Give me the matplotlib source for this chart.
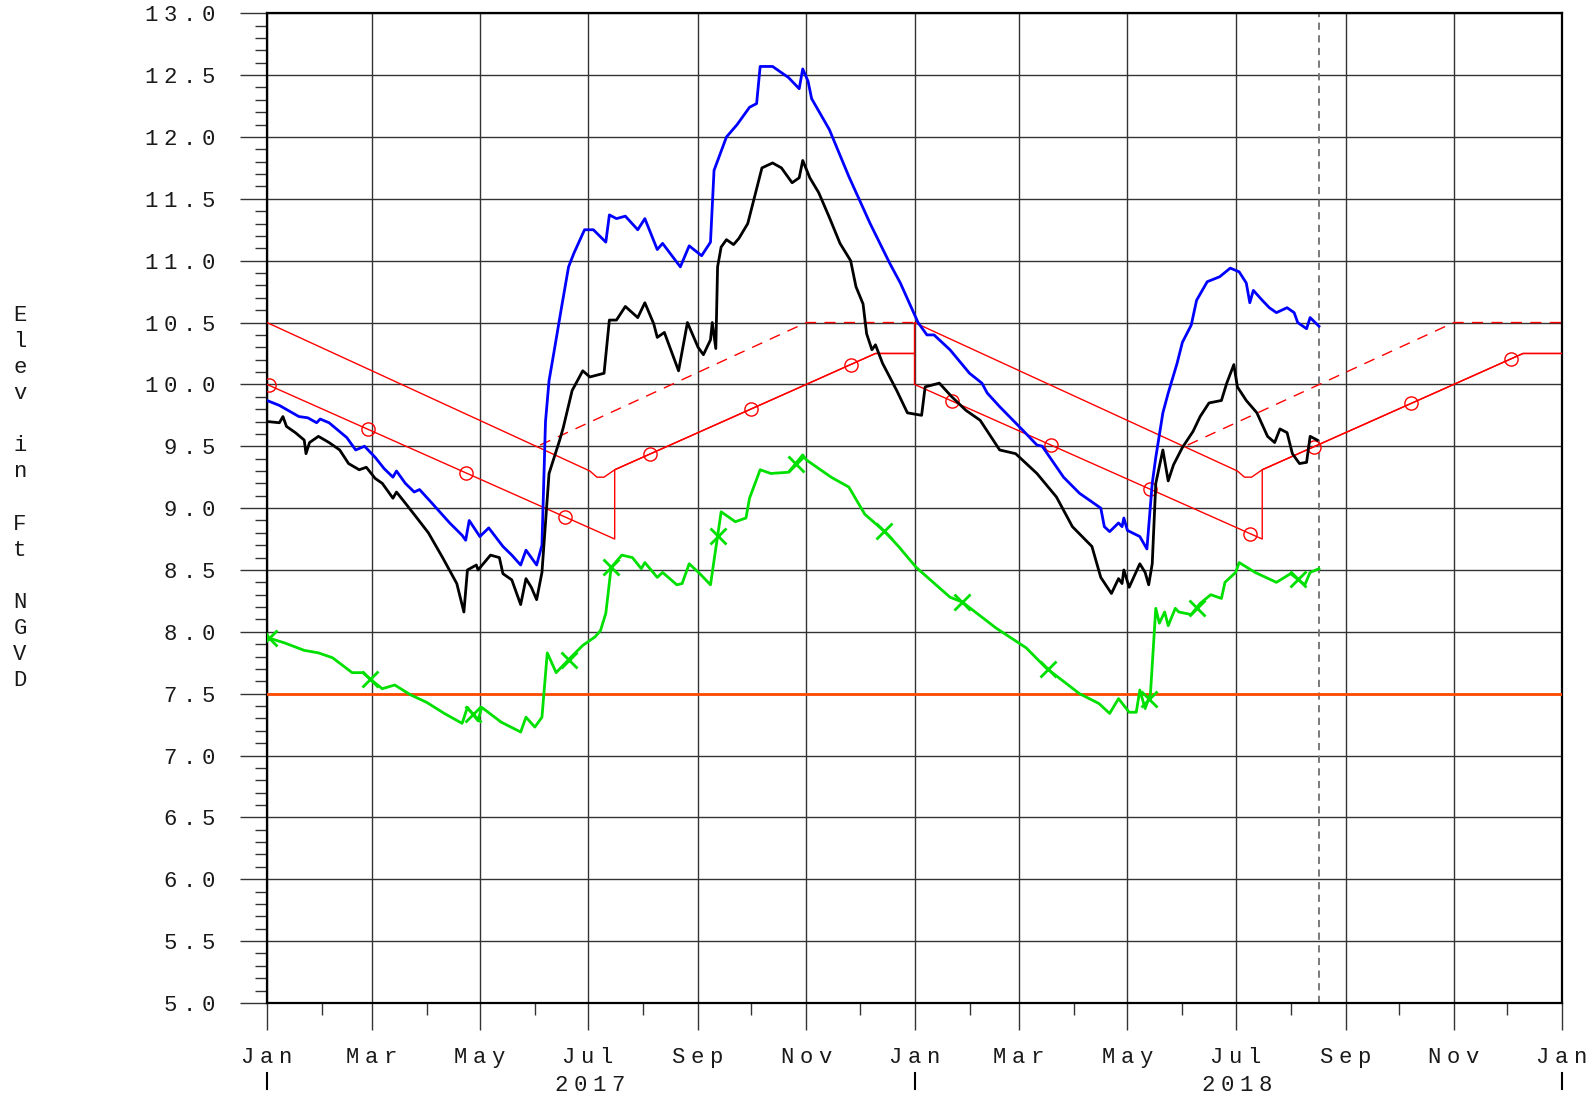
import numpy as np
import matplotlib
matplotlib.use('Agg')
import matplotlib.pyplot as plt
import matplotlib.dates as mdates
from matplotlib.ticker import FuncFormatter, MultipleLocator

plt.rcParams['font.family'] = ['Liberation Mono', 'DejaVu Sans']

START = np.datetime64('2017-01-01')

# all x values are days since 2017-01-01
blue_days = [0, 7, 18, 23, 28, 30, 35, 45, 50, 55, 61, 66, 71, 73, 78, 83, 86, 93, 103, 110,
             112, 114, 120, 125, 133, 138, 143, 146, 152, 155, 157, 159, 162, 166, 170, 173,
             179, 184, 191, 193, 197, 202, 209, 213, 220, 223, 233, 238, 245, 250, 252, 259,
             265, 272, 276, 278, 285, 294, 300, 302, 305, 307, 317, 328, 340, 351, 357, 367,
             372, 376, 385, 396, 403, 406, 413, 426, 434, 437, 449, 458, 466, 470, 472, 475,
             480, 482, 483, 485, 492, 496, 499, 501, 505, 508, 513, 516, 521, 524, 530, 537,
             543, 548, 552, 554, 556, 561, 565, 569, 575, 579, 581, 586, 588, 593]
blue_vals = [9.87, 9.83, 9.74, 9.73, 9.69, 9.72, 9.69, 9.57, 9.47, 9.50, 9.41, 9.32, 9.25, 9.30,
             9.20, 9.13, 9.15, 9.04, 8.88, 8.78, 8.74, 8.90, 8.77, 8.84, 8.69, 8.62, 8.54, 8.66,
             8.54, 8.70, 9.70, 10.03, 10.28, 10.62, 10.95, 11.06, 11.25, 11.25, 11.15, 11.37,
             11.34, 11.36, 11.25, 11.34, 11.09, 11.14, 10.95, 11.12, 11.04, 11.15, 11.73, 12.00,
             12.10, 12.24, 12.27, 12.57, 12.57, 12.48, 12.39, 12.55, 12.45, 12.31, 12.06, 11.68,
             11.30, 10.98, 10.82, 10.50, 10.40, 10.40, 10.28, 10.09, 10.01, 9.93, 9.82, 9.63,
             9.51, 9.50, 9.25, 9.12, 9.04, 9.00, 8.85, 8.81, 8.88, 8.85, 8.92, 8.82, 8.77, 8.67,
             9.20, 9.41, 9.77, 9.93, 10.17, 10.34, 10.48, 10.68, 10.83, 10.87, 10.94, 10.91,
             10.82, 10.66, 10.76, 10.68, 10.62, 10.58, 10.62, 10.58, 10.50, 10.45, 10.54, 10.47]

black_days = [0, 7, 9, 11, 16, 21, 22, 24, 29, 35, 41, 46, 52, 56, 61, 65, 71, 73, 78, 84, 91,
              99, 107, 111, 113, 118, 119, 126, 131, 133, 138, 143, 146, 149, 152, 155, 159, 165,
              167, 172, 178, 182, 190, 193, 197, 202, 209, 213, 218, 220, 224, 232, 237, 243,
              246, 250, 251, 253, 254, 256, 259, 263, 266, 271, 274, 279, 285, 290, 296, 300,
              302, 306, 311, 317, 323, 329, 332, 336, 338, 341, 343, 347, 355, 361, 369, 371,
              379, 386, 394, 402, 413, 422, 434, 445, 454, 465, 470, 476, 480, 482, 483, 486,
              492, 495, 497, 499, 501, 505, 508, 511, 516, 522, 526, 531, 538, 541, 545, 547,
              552, 558, 564, 568, 571, 575, 578, 582, 586, 588, 592]
black_vals = [9.70, 9.69, 9.74, 9.66, 9.61, 9.55, 9.44, 9.53, 9.58, 9.53, 9.47, 9.36, 9.31, 9.33,
              9.24, 9.20, 9.08, 9.13, 9.04, 8.93, 8.80, 8.60, 8.39, 8.16, 8.50, 8.54, 8.50, 8.62,
              8.60, 8.47, 8.42, 8.22, 8.43, 8.36, 8.26, 8.48, 9.28, 9.55, 9.65, 9.95, 10.11,
              10.06, 10.09, 10.52, 10.52, 10.63, 10.54, 10.66, 10.49, 10.38, 10.42, 10.11, 10.50,
              10.30, 10.24, 10.36, 10.50, 10.29, 10.95, 11.11, 11.17, 11.13, 11.18, 11.30, 11.47,
              11.75, 11.79, 11.75, 11.63, 11.67, 11.81, 11.67, 11.55, 11.35, 11.14, 11.00, 10.79,
              10.65, 10.41, 10.28, 10.32, 10.17, 9.95, 9.77, 9.75, 9.98, 10.01, 9.90, 9.79, 9.71,
              9.47, 9.44, 9.28, 9.09, 8.85, 8.69, 8.44, 8.31, 8.43, 8.39, 8.50, 8.36, 8.55, 8.48,
              8.38, 8.55, 9.20, 9.47, 9.22, 9.35, 9.49, 9.62, 9.74, 9.85, 9.87, 10.01, 10.16,
              9.98, 9.87, 9.77, 9.58, 9.53, 9.64, 9.61, 9.44, 9.36, 9.37, 9.58, 9.55]

green_days = [0, 1, 10, 21, 29, 37, 48, 54, 58, 65, 72, 81, 90, 100, 110, 113, 119, 121, 132,
              143, 146, 151, 155, 158, 163, 171, 178, 185, 188, 191, 194, 200, 206, 211, 213,
              220, 223, 231, 234, 238, 244, 250, 256, 264, 270, 272, 278, 284, 294, 302, 304,
              318, 328, 337, 349, 356, 366, 385, 392, 411, 428, 439, 458, 469, 475, 480, 486,
              490, 492, 495, 498, 501, 503, 506, 508, 512, 514, 521, 526, 532, 538, 540, 546,
              548, 557, 569, 577, 585, 588, 593]
green_vals = [7.98, 7.95, 7.91, 7.85, 7.83, 7.79, 7.67, 7.67, 7.62, 7.54, 7.57, 7.49, 7.43, 7.34,
              7.26, 7.39, 7.28, 7.39, 7.27, 7.19, 7.31, 7.23, 7.31, 7.83, 7.67, 7.79, 7.89, 7.96,
              8.01, 8.15, 8.52, 8.62, 8.60, 8.51, 8.56, 8.44, 8.48, 8.38, 8.39, 8.55, 8.47, 8.38,
              8.97, 8.89, 8.92, 9.08, 9.31, 9.28, 9.29, 9.43, 9.39, 9.25, 9.17, 8.95, 8.80, 8.69,
              8.52, 8.28, 8.24, 8.03, 7.87, 7.71, 7.50, 7.42, 7.34, 7.46, 7.35, 7.35, 7.53, 7.38,
              7.50, 8.19, 8.07, 8.16, 8.05, 8.19, 8.16, 8.14, 8.23, 8.30, 8.27, 8.40, 8.48, 8.56,
              8.48, 8.40, 8.47, 8.38, 8.48, 8.51]
green_mark_days = [1, 58, 116, 170, 194, 254, 298, 348, 392, 440, 497, 524, 581]

# rule curves
top_days = [0, 182, 186, 190, 193, 196, 304, 343, 365, 365, 547, 551, 555, 558, 561, 669, 708, 730]
top_vals = [10.5, 9.30, 9.25, 9.25, 9.28, 9.31, 10.0, 10.25, 10.25, 10.5,
            9.30, 9.25, 9.25, 9.28, 9.31, 10.0, 10.25, 10.25]
low_days = [0, 196, 196, 304, 343, 365, 365, 561, 561, 669, 708, 730]
low_vals = [10.0, 8.75, 9.31, 10.0, 10.25, 10.25, 10.0, 8.75, 9.31, 10.0, 10.25, 10.25]
low_mark_days = [1, 57, 112, 168, 216, 273, 329, 386, 442, 498, 554, 590, 645, 701]
dash_days = [154, 304, 365, 365, 519, 669, 730]
dash_vals = [9.51, 10.5, 10.5, np.nan, 9.51, 10.5, 10.5]

floor_level = 7.5
today_day = 593

year_labels = ['2017', '2018']
year_mid_days = [182, 547]
year_edge_days = [0, 365, 730]


def to_dates(days):
    return START + np.array(days).astype('timedelta64[D]')


def spaced(s):
    # narrow gap between letters, like the plotting package's lettering
    return '\u2005'.join(s)


fig = plt.figure(figsize=(15.91, 10.96), dpi=100)
ax = fig.add_subplot()
fig.subplots_adjust(left=0.1678, right=0.9818, top=0.9879, bottom=0.0849)

ax.plot(to_dates(dash_days), dash_vals, color='red', lw=1, ls=(0, (8, 6)), zorder=3)
ax.plot(to_dates(top_days), top_vals, color='red', lw=1, zorder=3)
ax.plot(to_dates(low_days), low_vals, color='red', lw=1, zorder=3)
low_x = np.array(low_days, dtype=float) + np.arange(len(low_days)) * 1e-6
ax.plot(to_dates(low_mark_days), np.interp(low_mark_days, low_x, low_vals), ls='none',
        marker='o', ms=9.5, mfc='none', mec='red', mew=1, zorder=3)

ax.axhline(floor_level, color='#ff4a00', lw=2, zorder=3)

ax.plot(to_dates(green_days), green_vals, color='#00e000', lw=2, zorder=4)
ax.plot(to_dates(green_mark_days), np.interp(green_mark_days, green_days, green_vals),
        ls='none', marker='x', ms=12, mec='#00e000', mew=2, zorder=4)
ax.plot(to_dates(blue_days), blue_vals, color='#0000ff', lw=2, zorder=5)
ax.plot(to_dates(black_days), black_vals, color='black', lw=2, zorder=5)

ax.axvline(to_dates([today_day])[0], color='#707070', lw=1.3, ls=(0, (4, 3)), zorder=2)

ax.set_xlim(to_dates([0])[0], to_dates([730])[0])
ax.set_ylim(5.0, 13.0)

ax.yaxis.set_major_locator(MultipleLocator(0.5))
ax.yaxis.set_minor_locator(MultipleLocator(0.1))
ax.yaxis.set_major_formatter(FuncFormatter(lambda v, p: spaced(f'{v:.1f}')))
ax.xaxis.set_major_locator(mdates.MonthLocator(bymonth=[1, 3, 5, 7, 9, 11]))
ax.xaxis.set_minor_locator(mdates.MonthLocator())
ax.xaxis.set_major_formatter(FuncFormatter(lambda v, p: spaced(mdates.num2date(v).strftime('%b'))))

fs = 16
ax.tick_params(axis='both', which='major', direction='out', length=19.5, width=1,
               color='#333333', labelsize=fs, labelcolor='#1a1a1a')
ax.tick_params(axis='both', which='minor', direction='out', length=8.6, width=1, color='#333333')
ax.tick_params(axis='y', which='major', pad=18)
ax.tick_params(axis='x', which='major', pad=12)

ax.grid(which='major', color='#333333', lw=1)
ax.set_axisbelow(True)
for sp in ax.spines.values():
    sp.set_linewidth(1.6)

trans = ax.get_xaxis_transform()
for lab, d in zip(year_labels, year_mid_days):
    ax.text(to_dates([d])[0], -0.083, spaced(lab), transform=trans, ha='center', va='center',
            fontsize=fs, color='#1a1a1a')
for d in year_edge_days:
    x = to_dates([d])[0]
    ax.plot([x, x], [-0.071, -0.087], transform=trans, color='black', lw=1.5, clip_on=False)

fig.text(0.0126, 0.5456, '\n'.join('Elev in Ft NGVD'), ha='center', va='center',
         fontsize=fs, color='#1a1a1a', linespacing=1.32)

fig.savefig('out.png', dpi=100)
